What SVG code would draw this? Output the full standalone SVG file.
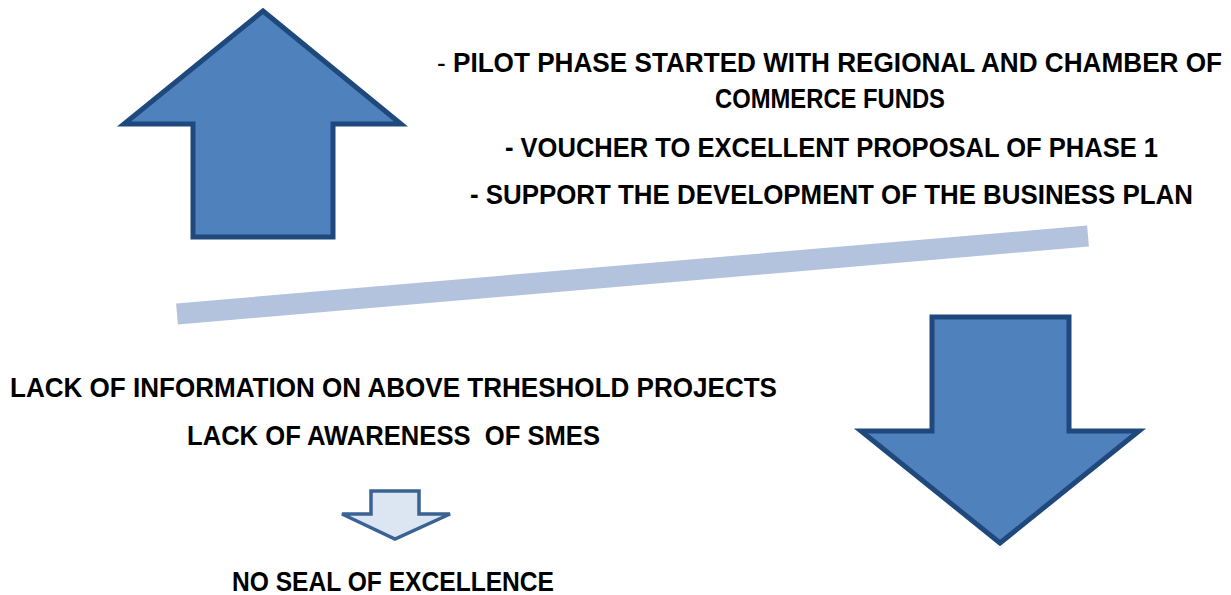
<svg xmlns="http://www.w3.org/2000/svg" width="1231" height="595" viewBox="0 0 1231 595">
<style>
.big{fill:#4f81bd;stroke:#1f497d;stroke-width:5;stroke-linejoin:miter}
.small{fill:#dce6f2;stroke:#3a6293;stroke-width:3.5;stroke-linejoin:miter}
.t{font-family:"Liberation Sans Narrow","Liberation Sans",Arial,sans-serif;font-weight:bold;font-size:27.5px;fill:#000}
</style>
<rect width="1231" height="595" fill="#fff"/>
<g id="up-arrow"><polygon class="big" points="263,11 401,124 333,124 333,237 193,237 193,124 124,124"/></g>
<g id="down-arrow"><polygon class="big" points="932,317 1069,317 1069,431 1139,431 1000,543 861,431 932,431"/></g>
<g id="small-arrow"><polygon class="small" points="371,491 419,491 419,514 450,514 395,539 342,514 371,514"/></g>
<g id="connectors"><line x1="177" y1="314" x2="1088" y2="236" stroke="#b3c2dd" stroke-width="21"/></g>
<g id="top-text">
<text class="t" x="437" y="72" textLength="785" lengthAdjust="spacingAndGlyphs"><tspan font-weight="normal">- </tspan>PILOT PHASE STARTED WITH REGIONAL AND CHAMBER OF</text>
<text class="t" x="715" y="108" textLength="230" lengthAdjust="spacingAndGlyphs">COMMERCE FUNDS</text>
<text class="t" x="505" y="157" textLength="653" lengthAdjust="spacingAndGlyphs">- VOUCHER TO EXCELLENT PROPOSAL OF PHASE 1</text>
<text class="t" x="470" y="204" textLength="723" lengthAdjust="spacingAndGlyphs">- SUPPORT THE DEVELOPMENT OF THE BUSINESS PLAN</text>
</g>
<g id="bottom-text">
<text class="t" x="10" y="397" textLength="767" lengthAdjust="spacingAndGlyphs">LACK OF INFORMATION ON ABOVE TRHESHOLD PROJECTS</text>
<text class="t" x="187" y="445" textLength="413" lengthAdjust="spacingAndGlyphs" xml:space="preserve">LACK OF AWARENESS  OF SMES</text>
<text class="t" x="232" y="591" textLength="322" lengthAdjust="spacingAndGlyphs">NO SEAL OF EXCELLENCE</text>
</g>
</svg>
